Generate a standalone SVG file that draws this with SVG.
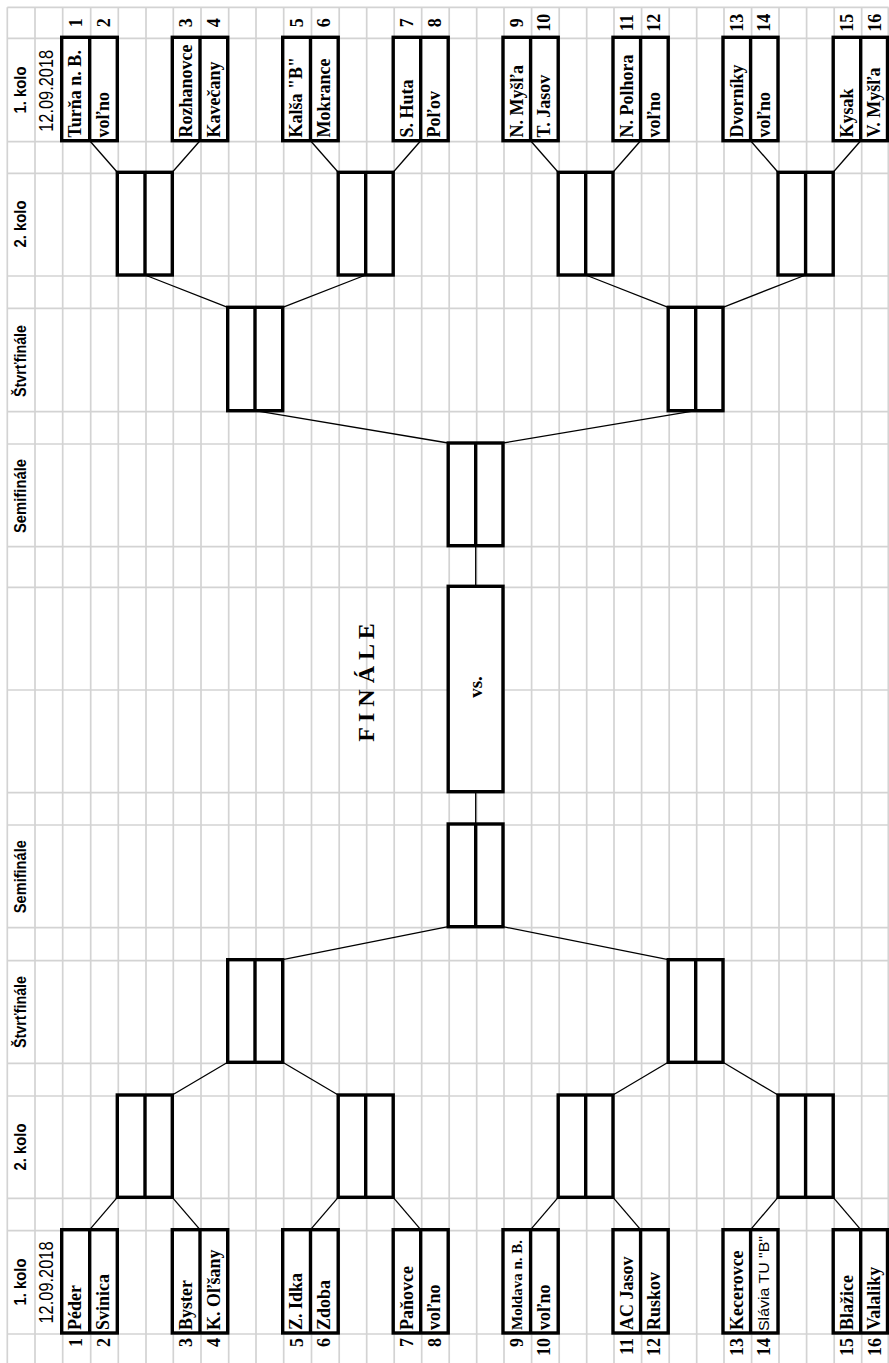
<svg xmlns="http://www.w3.org/2000/svg" width="889" height="1363" viewBox="0 0 889 1363">
<style>
.g line{stroke:#d3d3d3;stroke-width:1.7}
.box{fill:#fff;stroke:#000;stroke-width:3.4}
.dv{stroke:#000;stroke-width:3.4}
.c line{stroke:#000;stroke-width:1.3}
.team{font-family:"Liberation Serif",serif;font-weight:bold;font-size:18px}
.num{font-family:"Liberation Serif",serif;font-weight:bold;font-size:18px}
.nt{text-anchor:middle}
.nb{text-anchor:end}
.hdr{font-family:"Liberation Sans",sans-serif;font-weight:bold;font-size:16px;text-anchor:middle}
.date{font-family:"Liberation Sans",sans-serif;font-size:20px;text-anchor:middle}
.fin{font-family:"Liberation Serif",serif;font-weight:bold;font-size:24px;text-anchor:middle}
.vs{font-family:"Liberation Serif",serif;font-weight:bold;font-size:19px;text-anchor:middle}
</style>
<rect width="889" height="1363" fill="#fff"/>
<g id="grid" class="g">
<line x1="7.3" y1="7.3" x2="888.5" y2="7.3"/>
<line x1="7.3" y1="38.3" x2="888.5" y2="38.3"/>
<line x1="7.3" y1="141.7" x2="888.5" y2="141.7"/>
<line x1="7.3" y1="173.3" x2="888.5" y2="173.3"/>
<line x1="7.3" y1="276" x2="888.5" y2="276"/>
<line x1="7.3" y1="308.3" x2="888.5" y2="308.3"/>
<line x1="7.3" y1="411.7" x2="888.5" y2="411.7"/>
<line x1="7.3" y1="444" x2="888.5" y2="444"/>
<line x1="7.3" y1="546.7" x2="888.5" y2="546.7"/>
<line x1="7.3" y1="587.3" x2="888.5" y2="587.3"/>
<line x1="7.3" y1="690" x2="888.5" y2="690"/>
<line x1="7.3" y1="792.7" x2="888.5" y2="792.7"/>
<line x1="7.3" y1="825" x2="888.5" y2="825"/>
<line x1="7.3" y1="927.7" x2="888.5" y2="927.7"/>
<line x1="7.3" y1="960.7" x2="888.5" y2="960.7"/>
<line x1="7.3" y1="1063.3" x2="888.5" y2="1063.3"/>
<line x1="7.3" y1="1096" x2="888.5" y2="1096"/>
<line x1="7.3" y1="1198.3" x2="888.5" y2="1198.3"/>
<line x1="7.3" y1="1230.7" x2="888.5" y2="1230.7"/>
<line x1="7.3" y1="1334" x2="888.5" y2="1334"/>
<line x1="7.3" y1="7.3" x2="7.3" y2="1363"/>
<line x1="35" y1="7.3" x2="35" y2="1363"/>
<line x1="62.7" y1="7.3" x2="62.7" y2="1363"/>
<line x1="90.7" y1="7.3" x2="90.7" y2="1363"/>
<line x1="118.3" y1="7.3" x2="118.3" y2="1363"/>
<line x1="146" y1="7.3" x2="146" y2="1363"/>
<line x1="173.3" y1="7.3" x2="173.3" y2="1363"/>
<line x1="201" y1="7.3" x2="201" y2="1363"/>
<line x1="228.7" y1="7.3" x2="228.7" y2="1363"/>
<line x1="256" y1="7.3" x2="256" y2="1363"/>
<line x1="283.7" y1="7.3" x2="283.7" y2="1363"/>
<line x1="311.5" y1="7.3" x2="311.5" y2="1363"/>
<line x1="339.2" y1="7.3" x2="339.2" y2="1363"/>
<line x1="366.7" y1="7.3" x2="366.7" y2="1363"/>
<line x1="394.2" y1="7.3" x2="394.2" y2="1363"/>
<line x1="421.7" y1="7.3" x2="421.7" y2="1363"/>
<line x1="449.2" y1="7.3" x2="449.2" y2="1363"/>
<line x1="476.7" y1="7.3" x2="476.7" y2="1363"/>
<line x1="504" y1="7.3" x2="504" y2="1363"/>
<line x1="531.6" y1="7.3" x2="531.6" y2="1363"/>
<line x1="559.2" y1="7.3" x2="559.2" y2="1363"/>
<line x1="586.7" y1="7.3" x2="586.7" y2="1363"/>
<line x1="614" y1="7.3" x2="614" y2="1363"/>
<line x1="641.6" y1="7.3" x2="641.6" y2="1363"/>
<line x1="669.2" y1="7.3" x2="669.2" y2="1363"/>
<line x1="696.7" y1="7.3" x2="696.7" y2="1363"/>
<line x1="724" y1="7.3" x2="724" y2="1363"/>
<line x1="751.6" y1="7.3" x2="751.6" y2="1363"/>
<line x1="779" y1="7.3" x2="779" y2="1363"/>
<line x1="806.6" y1="7.3" x2="806.6" y2="1363"/>
<line x1="834.2" y1="7.3" x2="834.2" y2="1363"/>
<line x1="861.7" y1="7.3" x2="861.7" y2="1363"/>
<line x1="888.3" y1="7.3" x2="888.3" y2="1363"/>
</g>

<g id="headers">
<text class="hdr" transform="translate(25.5,90) rotate(-90)" textLength="47" lengthAdjust="spacingAndGlyphs">1. kolo</text>
<text class="date" transform="translate(53.3,90.8) rotate(-90)" textLength="82" lengthAdjust="spacingAndGlyphs">12.09.2018</text>
<text class="hdr" transform="translate(25.5,224) rotate(-90)" textLength="47" lengthAdjust="spacingAndGlyphs">2. kolo</text>
<text class="hdr" transform="translate(25.5,361) rotate(-90)" textLength="72" lengthAdjust="spacingAndGlyphs">Štvrťfinále</text>
<text class="hdr" transform="translate(25.5,496) rotate(-90)" textLength="74" lengthAdjust="spacingAndGlyphs">Semifinále</text>
<text class="hdr" transform="translate(25.5,876.7) rotate(-90)" textLength="73" lengthAdjust="spacingAndGlyphs">Semifinále</text>
<text class="hdr" transform="translate(25.5,1012) rotate(-90)" textLength="72" lengthAdjust="spacingAndGlyphs">Štvrťfinále</text>
<text class="hdr" transform="translate(25.5,1147) rotate(-90)" textLength="47" lengthAdjust="spacingAndGlyphs">2. kolo</text>
<text class="hdr" transform="translate(25.5,1282) rotate(-90)" textLength="47" lengthAdjust="spacingAndGlyphs">1. kolo</text>
<text class="date" transform="translate(53.3,1282.5) rotate(-90)" textLength="82" lengthAdjust="spacingAndGlyphs">12.09.2018</text>
<text class="fin" transform="translate(374,682.5) rotate(-90)">F I N Á L E</text>
</g>

<g id="connectors" class="c">
<line x1="89.7" y1="140.7" x2="117.3" y2="172.3"/>
<line x1="200" y1="140.7" x2="172.3" y2="172.3"/>
<line x1="310.5" y1="140.7" x2="338.2" y2="172.3"/>
<line x1="420.7" y1="140.7" x2="393.2" y2="172.3"/>
<line x1="530.6" y1="140.7" x2="558.2" y2="172.3"/>
<line x1="640.6" y1="140.7" x2="613" y2="172.3"/>
<line x1="750.6" y1="140.7" x2="778" y2="172.3"/>
<line x1="860.7" y1="140.7" x2="833.2" y2="172.3"/>
<line x1="145" y1="275" x2="227.7" y2="307.3"/>
<line x1="365.7" y1="275" x2="282.7" y2="307.3"/>
<line x1="585.7" y1="275" x2="668.2" y2="307.3"/>
<line x1="805.6" y1="275" x2="723" y2="307.3"/>
<line x1="255" y1="410.7" x2="448.2" y2="443"/>
<line x1="695.7" y1="410.7" x2="503" y2="443"/>
<line x1="475.7" y1="545.7" x2="475.7" y2="586.3"/>
<line x1="475.7" y1="791.7" x2="475.7" y2="824"/>
<line x1="448.2" y1="926.7" x2="282.7" y2="959.7"/>
<line x1="503" y1="926.7" x2="668.2" y2="959.7"/>
<line x1="227.7" y1="1062.3" x2="172.3" y2="1095"/>
<line x1="282.7" y1="1062.3" x2="338.2" y2="1095"/>
<line x1="668.2" y1="1062.3" x2="613" y2="1095"/>
<line x1="723" y1="1062.3" x2="778" y2="1095"/>
<line x1="117.3" y1="1197.3" x2="89.7" y2="1229.7"/>
<line x1="172.3" y1="1197.3" x2="200" y2="1229.7"/>
<line x1="338.2" y1="1197.3" x2="310.5" y2="1229.7"/>
<line x1="393.2" y1="1197.3" x2="420.7" y2="1229.7"/>
<line x1="558.2" y1="1197.3" x2="530.6" y2="1229.7"/>
<line x1="613" y1="1197.3" x2="640.6" y2="1229.7"/>
<line x1="778" y1="1197.3" x2="750.6" y2="1229.7"/>
<line x1="833.2" y1="1197.3" x2="860.7" y2="1229.7"/>
</g>

<g id="r1t-1"><rect class="box" x="61.7" y="37.3" width="55.6" height="103.4"/><line class="dv" x1="89.7" y1="37.3" x2="89.7" y2="140.7"/>
<text class="team" transform="translate(81.2,137.5) rotate(-90)">Turňa n. B.</text><text class="team" transform="translate(109.2,137.5) rotate(-90)">voľno</text>
<text class="num nt" transform="translate(81.5,22.8) rotate(-90)">1</text><text class="num nt" transform="translate(109.5,22.8) rotate(-90)">2</text></g>
<g id="r1t-2"><rect class="box" x="172.3" y="37.3" width="55.4" height="103.4"/><line class="dv" x1="200" y1="37.3" x2="200" y2="140.7"/>
<text class="team" transform="translate(191.8,137.5) rotate(-90)">Rozhanovce</text><text class="team" transform="translate(219.5,137.5) rotate(-90)">Kavečany</text>
<text class="num nt" transform="translate(192,22.8) rotate(-90)">3</text><text class="num nt" transform="translate(219.8,22.8) rotate(-90)">4</text></g>
<g id="r1t-3"><rect class="box" x="282.7" y="37.3" width="55.5" height="103.4"/><line class="dv" x1="310.5" y1="37.3" x2="310.5" y2="140.7"/>
<text class="team" transform="translate(302.2,137.5) rotate(-90)">Kalša "B"</text><text class="team" transform="translate(330,137.5) rotate(-90)">Mokrance</text>
<text class="num nt" transform="translate(302.5,22.8) rotate(-90)">5</text><text class="num nt" transform="translate(330.3,22.8) rotate(-90)">6</text></g>
<g id="r1t-4"><rect class="box" x="393.2" y="37.3" width="55" height="103.4"/><line class="dv" x1="420.7" y1="37.3" x2="420.7" y2="140.7"/>
<text class="team" transform="translate(412.7,137.5) rotate(-90)">S. Huta</text><text class="team" transform="translate(440.2,137.5) rotate(-90)">Poľov</text>
<text class="num nt" transform="translate(413,22.8) rotate(-90)">7</text><text class="num nt" transform="translate(440.5,22.8) rotate(-90)">8</text></g>
<g id="r1t-5"><rect class="box" x="503" y="37.3" width="55.2" height="103.4"/><line class="dv" x1="530.6" y1="37.3" x2="530.6" y2="140.7"/>
<text class="team" transform="translate(522.5,137.5) rotate(-90)">N. Myšľa</text><text class="team" transform="translate(550.1,137.5) rotate(-90)">T. Jasov</text>
<text class="num nt" transform="translate(522.8,22.8) rotate(-90)">9</text><text class="num nt" transform="translate(550.4,22.8) rotate(-90)">10</text></g>
<g id="r1t-6"><rect class="box" x="613" y="37.3" width="55.2" height="103.4"/><line class="dv" x1="640.6" y1="37.3" x2="640.6" y2="140.7"/>
<text class="team" transform="translate(632.5,137.5) rotate(-90)">N. Polhora</text><text class="team" transform="translate(660.1,137.5) rotate(-90)">voľno</text>
<text class="num nt" transform="translate(632.8,22.8) rotate(-90)">11</text><text class="num nt" transform="translate(660.4,22.8) rotate(-90)">12</text></g>
<g id="r1t-7"><rect class="box" x="723" y="37.3" width="55" height="103.4"/><line class="dv" x1="750.6" y1="37.3" x2="750.6" y2="140.7"/>
<text class="team" transform="translate(742.5,137.5) rotate(-90)">Dvorníky</text><text class="team" transform="translate(770.1,137.5) rotate(-90)">voľno</text>
<text class="num nt" transform="translate(742.8,22.8) rotate(-90)">13</text><text class="num nt" transform="translate(770.4,22.8) rotate(-90)">14</text></g>
<g id="r1t-8"><rect class="box" x="833.2" y="37.3" width="54.3" height="103.4"/><line class="dv" x1="860.7" y1="37.3" x2="860.7" y2="140.7"/>
<text class="team" transform="translate(852.7,137.5) rotate(-90)">Kysak</text><text class="team" transform="translate(880.2,137.5) rotate(-90)">V. Myšľa</text>
<text class="num nt" transform="translate(853,22.8) rotate(-90)">15</text><text class="num nt" transform="translate(880.5,22.8) rotate(-90)">16</text></g>

<g id="r2t-1"><rect class="box" x="117.3" y="172.3" width="55" height="102.7"/><line class="dv" x1="145" y1="172.3" x2="145" y2="275"/></g>
<g id="r2t-2"><rect class="box" x="338.2" y="172.3" width="55" height="102.7"/><line class="dv" x1="365.7" y1="172.3" x2="365.7" y2="275"/></g>
<g id="r2t-3"><rect class="box" x="558.2" y="172.3" width="54.8" height="102.7"/><line class="dv" x1="585.7" y1="172.3" x2="585.7" y2="275"/></g>
<g id="r2t-4"><rect class="box" x="778" y="172.3" width="55.2" height="102.7"/><line class="dv" x1="805.6" y1="172.3" x2="805.6" y2="275"/></g>

<g id="qft-1"><rect class="box" x="227.7" y="307.3" width="55" height="103.4"/><line class="dv" x1="255" y1="307.3" x2="255" y2="410.7"/></g>
<g id="qft-2"><rect class="box" x="668.2" y="307.3" width="54.8" height="103.4"/><line class="dv" x1="695.7" y1="307.3" x2="695.7" y2="410.7"/></g>

<g id="sft"><rect class="box" x="448.2" y="443" width="54.8" height="102.7"/><line class="dv" x1="475.7" y1="443" x2="475.7" y2="545.7"/></g>

<g id="final"><rect class="box" x="448.2" y="586.3" width="54.8" height="205.4"/>
<text class="vs" transform="translate(482,687) rotate(-90)">vs.</text></g>

<g id="sfb"><rect class="box" x="448.2" y="824" width="54.8" height="102.7"/><line class="dv" x1="475.7" y1="824" x2="475.7" y2="926.7"/></g>

<g id="qfb-1"><rect class="box" x="227.7" y="959.7" width="55" height="102.6"/><line class="dv" x1="255" y1="959.7" x2="255" y2="1062.3"/></g>
<g id="qfb-2"><rect class="box" x="668.2" y="959.7" width="54.8" height="102.6"/><line class="dv" x1="695.7" y1="959.7" x2="695.7" y2="1062.3"/></g>

<g id="r2b-1"><rect class="box" x="117.3" y="1095" width="55" height="102.3"/><line class="dv" x1="145" y1="1095" x2="145" y2="1197.3"/></g>
<g id="r2b-2"><rect class="box" x="338.2" y="1095" width="55" height="102.3"/><line class="dv" x1="365.7" y1="1095" x2="365.7" y2="1197.3"/></g>
<g id="r2b-3"><rect class="box" x="558.2" y="1095" width="54.8" height="102.3"/><line class="dv" x1="585.7" y1="1095" x2="585.7" y2="1197.3"/></g>
<g id="r2b-4"><rect class="box" x="778" y="1095" width="55.2" height="102.3"/><line class="dv" x1="805.6" y1="1095" x2="805.6" y2="1197.3"/></g>

<g id="r1b-1"><rect class="box" x="61.7" y="1229.7" width="55.6" height="103.3"/><line class="dv" x1="89.7" y1="1229.7" x2="89.7" y2="1333"/>
<text class="team" transform="translate(81.2,1330) rotate(-90)">Péder</text><text class="team" transform="translate(109.2,1330) rotate(-90)">Svinica</text>
<text class="num nb" transform="translate(81.5,1338) rotate(-90)">1</text><text class="num nb" transform="translate(109.5,1338) rotate(-90)">2</text></g>
<g id="r1b-2"><rect class="box" x="172.3" y="1229.7" width="55.4" height="103.3"/><line class="dv" x1="200" y1="1229.7" x2="200" y2="1333"/>
<text class="team" transform="translate(191.8,1330) rotate(-90)">Byster</text><text class="team" transform="translate(219.5,1330) rotate(-90)">K. Oľšany</text>
<text class="num nb" transform="translate(192,1338) rotate(-90)">3</text><text class="num nb" transform="translate(219.8,1338) rotate(-90)">4</text></g>
<g id="r1b-3"><rect class="box" x="282.7" y="1229.7" width="55.5" height="103.3"/><line class="dv" x1="310.5" y1="1229.7" x2="310.5" y2="1333"/>
<text class="team" transform="translate(302.2,1330) rotate(-90)">Z. Idka</text><text class="team" transform="translate(330,1330) rotate(-90)">Zdoba</text>
<text class="num nb" transform="translate(302.5,1338) rotate(-90)">5</text><text class="num nb" transform="translate(330.3,1338) rotate(-90)">6</text></g>
<g id="r1b-4"><rect class="box" x="393.2" y="1229.7" width="55" height="103.3"/><line class="dv" x1="420.7" y1="1229.7" x2="420.7" y2="1333"/>
<text class="team" transform="translate(412.7,1330) rotate(-90)">Paňovce</text><text class="team" transform="translate(440.2,1330) rotate(-90)">voľno</text>
<text class="num nb" transform="translate(413,1338) rotate(-90)">7</text><text class="num nb" transform="translate(440.5,1338) rotate(-90)">8</text></g>
<g id="r1b-5"><rect class="box" x="503" y="1229.7" width="55.2" height="103.3"/><line class="dv" x1="530.6" y1="1229.7" x2="530.6" y2="1333"/>
<text class="team" style="font-size:15px" transform="translate(522,1330) rotate(-90)">Moldava n. B.</text><text class="team" transform="translate(550.1,1330) rotate(-90)">voľno</text>
<text class="num nb" transform="translate(522.8,1338) rotate(-90)">9</text><text class="num nb" transform="translate(550.4,1338) rotate(-90)">10</text></g>
<g id="r1b-6"><rect class="box" x="613" y="1229.7" width="55.2" height="103.3"/><line class="dv" x1="640.6" y1="1229.7" x2="640.6" y2="1333"/>
<text class="team" transform="translate(632.5,1330) rotate(-90)">AC Jasov</text><text class="team" transform="translate(660.1,1330) rotate(-90)">Ruskov</text>
<text class="num nb" transform="translate(632.8,1338) rotate(-90)">11</text><text class="num nb" transform="translate(660.4,1338) rotate(-90)">12</text></g>
<g id="r1b-7"><rect class="box" x="723" y="1229.7" width="55" height="103.3"/><line class="dv" x1="750.6" y1="1229.7" x2="750.6" y2="1333"/>
<text class="team" transform="translate(742.5,1330) rotate(-90)">Kecerovce</text><text class="team" style="font-family:'Liberation Sans Narrow','Liberation Sans',sans-serif;font-weight:normal;font-size:15px" transform="translate(769,1331) rotate(-90)" textLength="95" lengthAdjust="spacingAndGlyphs">Slávia TU "B"</text>
<text class="num nb" transform="translate(742.8,1338) rotate(-90)">13</text><text class="num nb" transform="translate(770.4,1338) rotate(-90)">14</text></g>
<g id="r1b-8"><rect class="box" x="833.2" y="1229.7" width="54.3" height="103.3"/><line class="dv" x1="860.7" y1="1229.7" x2="860.7" y2="1333"/>
<text class="team" transform="translate(852.7,1330) rotate(-90)">Blažice</text><text class="team" transform="translate(880.2,1330) rotate(-90)">Valaliky</text>
<text class="num nb" transform="translate(853,1338) rotate(-90)">15</text><text class="num nb" transform="translate(880.5,1338) rotate(-90)">16</text></g>
</svg>
